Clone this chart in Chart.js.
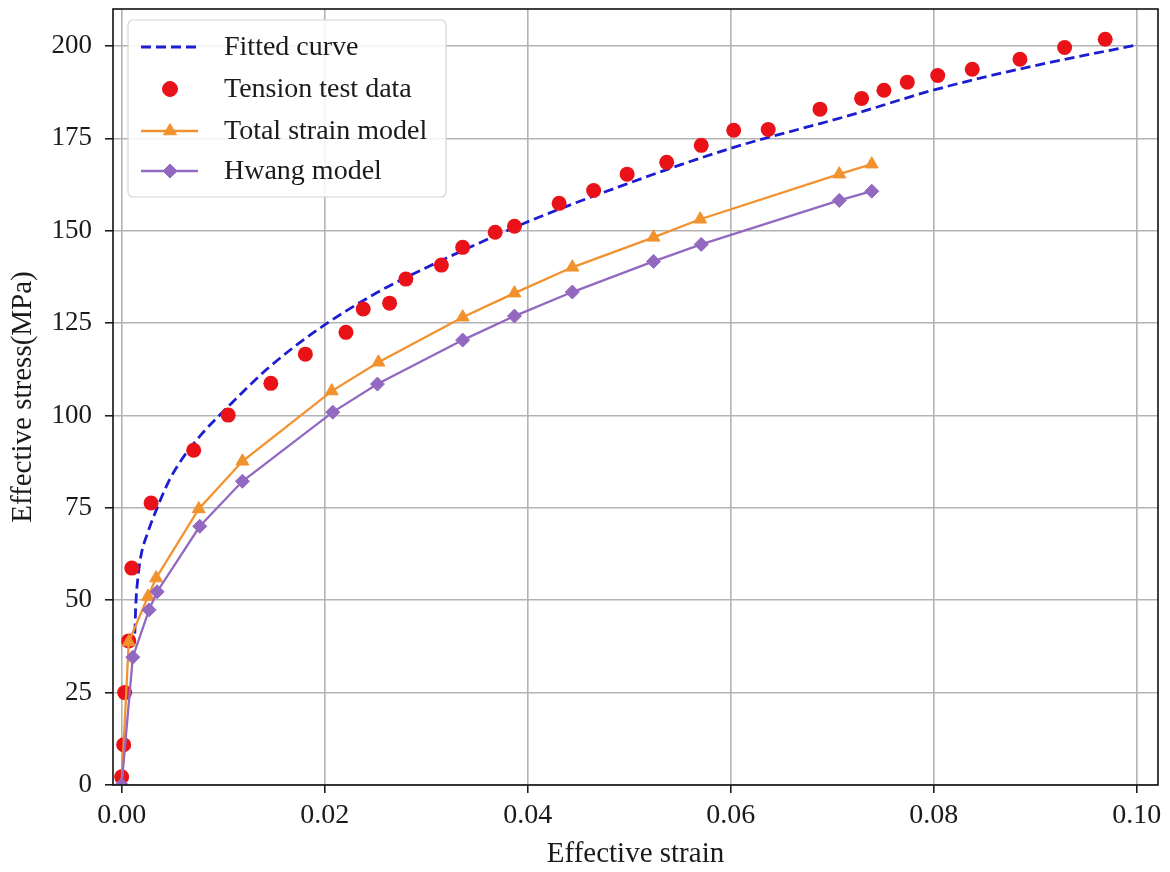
<!DOCTYPE html>
<html>
<head>
<meta charset="utf-8">
<script src="https://cdn.jsdelivr.net/npm/chart.js@4.4.1/dist/chart.umd.min.js"></script>
<style>
  html, body { margin: 0; padding: 0; background: #fff; }
  #wrap { width: 1170px; height: 872px; }
</style>
</head>
<body>
<div id="wrap"><canvas id="stressChart" width="1170" height="872"></canvas></div>
<script>
// values
const fitStrain = [0.0013, 0.0014, 0.0016, 0.0019, 0.0026, 0.0035, 0.0047, 0.0059, 0.0079, 0.0109, 0.0143, 0.0192, 0.025, 0.03, 0.0343, 0.0399, 0.0491, 0.06, 0.0717, 0.0799, 0.0882, 0.1];
const fitStress = [41, 49, 56, 62, 68.5, 75, 82.5, 88, 95, 103.5, 112.5, 123, 133, 140, 145.5, 152.3, 162, 172.3, 181.2, 188, 193.6, 200.3];

const testStrain = [0, 0.0002, 0.0003, 0.0007, 0.001, 0.0029, 0.0071, 0.0105, 0.0147, 0.0181, 0.0221, 0.0238, 0.0264, 0.028, 0.0315, 0.0336, 0.0368, 0.0387, 0.0431, 0.0465, 0.0498, 0.0537, 0.0571, 0.0603, 0.0637, 0.0688, 0.0729, 0.0751, 0.0774, 0.0804, 0.0838, 0.0885, 0.0929, 0.0969];
const testStress = [2.2, 10.9, 25.0, 39.0, 58.7, 76.3, 90.6, 100.1, 108.7, 116.6, 122.5, 128.8, 130.4, 136.9, 140.7, 145.5, 149.6, 151.2, 157.4, 160.9, 165.3, 168.5, 173.1, 177.2, 177.4, 182.9, 185.8, 188.0, 190.2, 192.0, 193.7, 196.4, 199.6, 201.8];

const totalStrain = [0, 0.0007, 0.0026, 0.0034, 0.0076, 0.0119, 0.0207, 0.0253, 0.0336, 0.0387, 0.0444, 0.0524, 0.057, 0.0707, 0.0739];
const totalStress = [0, 38.7, 51.0, 56.0, 74.7, 87.6, 106.6, 114.4, 126.6, 133.1, 140.1, 148.2, 153.1, 165.3, 168.0];

const hwangStrain = [0, 0.0011, 0.0027, 0.0035, 0.0077, 0.0119, 0.0208, 0.0252, 0.0336, 0.0387, 0.0444, 0.0524, 0.0571, 0.0707, 0.0739];
const hwangStress = [0, 34.6, 47.4, 52.3, 70.0, 82.2, 100.9, 108.5, 120.4, 126.9, 133.4, 141.7, 146.3, 158.2, 160.7];

const xTicks = [0, 0.02, 0.04, 0.06, 0.08, 0.10];
const yTicks = [0, 25, 50, 75, 100, 125, 150, 175, 200];

const seriesNames = ['Fitted curve', 'Tension test data', 'Total strain model', 'Hwang model'];

const BLUE = '#1c1cd0';
const RED = '#ea1219';
const ORANGE = '#f2922f';
const PURPLE = '#9268c0';
const SERIF = '"Liberation Serif", "Times New Roman", serif';

function toPoints(xs, ys) {
    return xs.map((x, i) => ({ x: x, y: ys[i] }));
}

// frame round the plot + legend box in the upper left corner
const frameAndLegend = {
    id: 'frameAndLegend',
    afterDraw(chart) {
        const ctx = chart.ctx;
        const a = chart.chartArea;
        ctx.save();
        ctx.strokeStyle = '#111';
        ctx.lineWidth = 1.6;
        ctx.strokeRect(a.left, a.top, a.right - a.left, a.bottom - a.top);

        // legend
        const bx = 128, by = 20, bw = 318, bh = 177;
        ctx.beginPath();
        ctx.roundRect(bx, by, bw, bh, 5);
        ctx.fillStyle = 'rgba(255,255,255,0.85)';
        ctx.fill();
        ctx.strokeStyle = '#d4d4d4';
        ctx.lineWidth = 1.2;
        ctx.stroke();

        const rows = [47, 89, 131, 171];
        const x0 = 141, x1 = 198, xm = 170;
        ctx.font = '28px ' + SERIF;
        ctx.textBaseline = 'middle';
        ctx.textAlign = 'left';
        chart.data.datasets.forEach((ds, i) => {
            const y = rows[i];
            if (ds.showLine) {
                ctx.save();
                ctx.strokeStyle = ds.borderColor;
                ctx.lineWidth = ds.borderWidth;
                ctx.setLineDash(ds.borderDash || []);
                ctx.beginPath();
                ctx.moveTo(x0, y);
                ctx.lineTo(x1, y);
                ctx.stroke();
                ctx.restore();
            }
            if (ds.pointRadius > 0) {
                ctx.fillStyle = ds.pointBackgroundColor;
                ctx.strokeStyle = ds.pointBorderColor;
                ctx.lineWidth = 1;
                Chart.helpers.drawPoint(ctx, {
                    pointStyle: ds.pointStyle,
                    radius: ds.pointRadius,
                    borderWidth: 1,
                    rotation: 0
                }, xm, y);
            }
            ctx.fillStyle = '#1a1a1a';
            ctx.fillText(seriesNames[i], 224, y + 1);
        });
        ctx.restore();
    }
};

const ctx = document.getElementById('stressChart').getContext('2d');
const chart = new Chart(ctx, {
    type: 'scatter',
    data: {
        datasets: [
            {
                label: seriesNames[0],
                data: toPoints(fitStrain, fitStress),
                showLine: true,
                borderColor: BLUE,
                borderWidth: 2.8,
                borderDash: [10, 5],
                pointRadius: 0,
                cubicInterpolationMode: 'monotone',
                order: 4
            },
            {
                label: seriesNames[1],
                data: toPoints(testStrain, testStress),
                showLine: false,
                pointStyle: 'circle',
                pointRadius: 7.5,
                pointBackgroundColor: RED,
                pointBorderColor: RED,
                pointBorderWidth: 0,
                order: 3
            },
            {
                label: seriesNames[2],
                data: toPoints(totalStrain, totalStress),
                showLine: true,
                borderColor: ORANGE,
                borderWidth: 2.3,
                pointStyle: 'triangle',
                pointRadius: 7.5,
                pointBackgroundColor: ORANGE,
                pointBorderColor: ORANGE,
                pointBorderWidth: 1,
                order: 2
            },
            {
                label: seriesNames[3],
                data: toPoints(hwangStrain, hwangStress),
                showLine: true,
                borderColor: PURPLE,
                borderWidth: 2.3,
                pointStyle: 'rectRot',
                pointRadius: 7,
                pointBackgroundColor: PURPLE,
                pointBorderColor: PURPLE,
                pointBorderWidth: 1,
                order: 1
            }
        ]
    },
    options: {
        responsive: false,
        animation: false,
        events: [],
        layout: { padding: { left: 0, right: 12, top: 9, bottom: 0 } },
        plugins: {
            legend: { display: false },
            tooltip: { enabled: false }
        },
        scales: {
            x: {
                type: 'linear',
                min: -0.00085,
                max: 0.1021,
                afterBuildTicks: (scale) => { scale.ticks = xTicks.map(v => ({ value: v })); },
                afterFit: (scale) => {
                    scale.height = 87;
                    scale.paddingLeft = 0;
                    scale.paddingRight = 0;
                },
                ticks: {
                    callback: (v) => Number(v).toFixed(2),
                    font: { family: SERIF, size: 28 },
                    color: '#1a1a1a',
                    padding: 6,
                    maxRotation: 0,
                    autoSkip: false
                },
                grid: { color: '#b3b3b3', lineWidth: 1.6, tickColor: '#111', tickLength: 8, tickWidth: 1.5 },
                border: { display: false },
                title: {
                    display: true,
                    text: 'Effective strain',
                    font: { family: SERIF, size: 29, lineHeight: 1.0 },
                    color: '#1a1a1a',
                    padding: { top: 0, bottom: 3 }
                }
            },
            y: {
                type: 'linear',
                min: 0,
                max: 210,
                afterBuildTicks: (scale) => { scale.ticks = yTicks.map(v => ({ value: v })); },
                afterFit: (scale) => {
                    scale.width = 113;
                    scale.paddingTop = 0;
                    scale.paddingBottom = 0;
                },
                ticks: {
                    callback: (v) => String(v),
                    font: { family: SERIF, size: 27 },
                    color: '#1a1a1a',
                    padding: 13,
                    autoSkip: false
                },
                grid: { color: '#b3b3b3', lineWidth: 1.6, tickColor: '#111', tickLength: 8, tickWidth: 1.5 },
                border: { display: false },
                title: {
                    display: true,
                    text: 'Effective stress(MPa)',
                    font: { family: SERIF, size: 29, lineHeight: 1.2 },
                    color: '#1a1a1a',
                    padding: { top: 6, bottom: 0 }
                }
            }
        }
    },
    plugins: [frameAndLegend]
});
</script>
</body>
</html>
